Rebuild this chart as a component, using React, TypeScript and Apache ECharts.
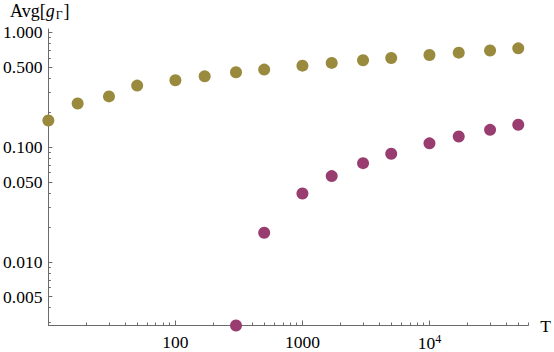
import React, { useEffect, useRef } from "react";
import * as echarts from "echarts";

const tOlive = [10, 17, 30, 50, 100, 170, 300, 500, 1000, 1700, 3000, 5000, 10000, 17000, 30000, 50000];
const avgOlive = [0.171, 0.24, 0.277, 0.344, 0.383, 0.414, 0.449, 0.474, 0.513, 0.542, 0.571, 0.598, 0.635, 0.666, 0.696, 0.726];
const tPink = [300, 500, 1000, 1700, 3000, 5000, 10000, 17000, 30000, 50000];
const avgPink = [0.0028, 0.018, 0.0395, 0.056, 0.0726, 0.0877, 0.108, 0.124, 0.1416, 0.1567];

const xMajorTicks = [10, 100, 1000, 10000];
const xLabels = [100, 1000, 10000];
const xMinorTicks = [20, 30, 40, 50, 60, 70, 80, 90, 200, 300, 400, 500, 600, 700, 800, 900, 2000, 3000, 4000, 5000, 6000, 7000, 8000, 9000, 20000, 30000, 40000, 50000, 60000];
const yMajorTicks = [0.005, 0.01, 0.05, 0.1, 0.5, 1];
const yMinorTicks = [0.003, 0.004, 0.006, 0.007, 0.008, 0.009, 0.02, 0.03, 0.04, 0.06, 0.07, 0.08, 0.09, 0.2, 0.3, 0.4, 0.6, 0.7, 0.8, 0.9];

const X_MIN = 10;
const X_MAX = 60000;
const Y_MIN = 0.0028;
const Y_MAX = 1.07;

const OLIVE = "#998a3d";
const PINK = "#993d70";
const AXIS = "#6b6b6b";
const FONT = "Liberation Serif";
const FS = 17.5;

export default function App() {
  const ref = useRef<HTMLDivElement>(null);
  useEffect(() => {
    if (!ref.current) return;
    const chart = echarts.init(ref.current, null, { renderer: "svg" });
    const fmtX = (v: number) => {
      const r = Math.round(v);
      if (r === 10000) return "{t|10}{sup|4}";
      return "{t|" + String(r) + "}";
    };
    const fmtY = (v: number) => "{t|" + v.toFixed(3) + "}";
    const tStyle = { fontFamily: FONT, fontSize: FS, color: "#000" };
    chart.setOption({
      animation: false,
      backgroundColor: "#ffffff",
      textStyle: { fontFamily: FONT },
      grid: { left: 46, right: 24, top: 29, bottom: 26, containLabel: false },
      graphic: [
        {
          type: "text",
          left: 10,
          top: 2,
          style: {
            text: "{n|Avg[}{i|g}{s|Γ}{n|]}",
            fill: "#000",
            font: `18px ${FONT}`,
            rich: {
              n: { fontFamily: FONT, fontSize: 18, fill: "#000" },
              i: { fontFamily: FONT, fontSize: 18, fontStyle: "italic", fill: "#000" },
              s: { fontFamily: FONT, fontSize: 12, fill: "#000", padding: [8, 1, 0, 1] },
            },
          },
        },
      ],
      xAxis: [
        {
          type: "log",
          logBase: 10,
          min: X_MIN,
          max: X_MAX,
          position: "bottom",
          name: "T",
          nameLocation: "end",
          nameGap: 12,
          nameTextStyle: { fontFamily: FONT, fontSize: FS, color: "#000", verticalAlign: "middle" },
          axisLine: { show: true, lineStyle: { color: AXIS, width: 1 } },
          axisTick: { show: true, inside: true, length: 5, customValues: xMajorTicks, lineStyle: { color: AXIS } },
          axisLabel: {
            show: true,
            customValues: xLabels,
            formatter: fmtX,
            margin: 7,
            fontFamily: FONT,
            fontSize: FS,
            color: "#000",
            rich: {
              t: tStyle,
              sup: { fontFamily: FONT, fontSize: 12, color: "#000", padding: [0, 0, 9, 0] },
            },
          },
          splitLine: { show: false },
          minorTick: { show: false },
        },
        {
          type: "log",
          logBase: 10,
          min: X_MIN,
          max: X_MAX,
          position: "bottom",
          axisLine: { show: false },
          axisTick: { show: true, inside: true, length: 3, customValues: xMinorTicks, lineStyle: { color: AXIS } },
          axisLabel: { show: false },
          splitLine: { show: false },
        },
      ],
      yAxis: [
        {
          type: "log",
          logBase: 10,
          min: Y_MIN,
          max: Y_MAX,
          position: "left",
          axisLine: { show: true, lineStyle: { color: AXIS, width: 1 } },
          axisTick: { show: true, inside: true, length: 4, customValues: yMajorTicks, lineStyle: { color: AXIS } },
          axisLabel: {
            show: true,
            customValues: yMajorTicks,
            formatter: fmtY,
            margin: 6,
            fontFamily: FONT,
            fontSize: FS,
            color: "#000",
            rich: { t: tStyle },
          },
          splitLine: { show: false },
        },
        {
          type: "log",
          logBase: 10,
          min: Y_MIN,
          max: Y_MAX,
          position: "left",
          axisLine: { show: false },
          axisTick: { show: true, inside: true, length: 2.5, customValues: yMinorTicks, lineStyle: { color: AXIS } },
          axisLabel: { show: false },
          splitLine: { show: false },
        },
      ],
      series: [
        {
          type: "scatter",
          xAxisIndex: 0,
          yAxisIndex: 0,
          symbol: "circle",
          symbolSize: 12,
          clip: false,
          itemStyle: { color: OLIVE, opacity: 1 },
          data: tOlive.map((t, i) => [t, avgOlive[i]]),
        },
        {
          type: "scatter",
          xAxisIndex: 0,
          yAxisIndex: 0,
          symbol: "circle",
          symbolSize: 12,
          clip: false,
          itemStyle: { color: PINK, opacity: 1 },
          data: tPink.map((t, i) => [t, avgPink[i]]),
        },
      ],
    });
    return () => chart.dispose();
  }, []);
  return (
    <div
      ref={ref}
      style={{ position: "fixed", left: 0, top: 0, width: 554, height: 352, background: "#fff" }}
    />
  );
}
